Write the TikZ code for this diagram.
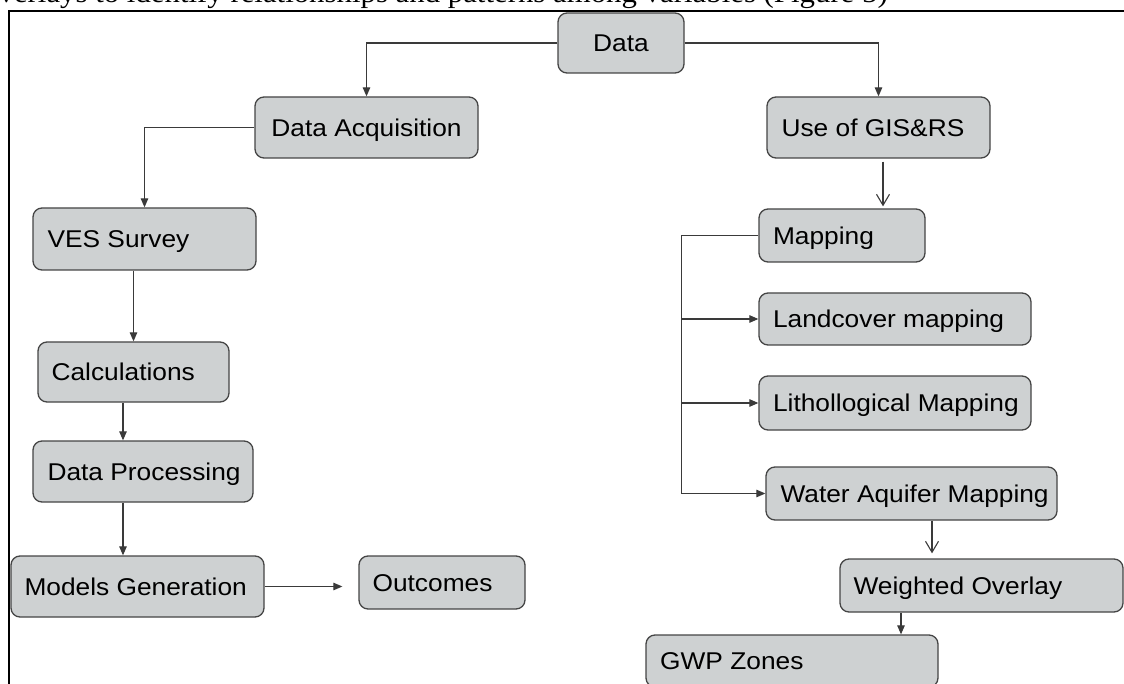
\documentclass[tikz,border=0pt]{standalone}
\usepackage{fontspec}
\setmainfont{Liberation Sans}[FakeStretch=1.085]
\newfontfamily\serifbody{Liberation Serif}[FakeStretch=1.085]
\usetikzlibrary{arrows.meta,calc}
\definecolor{boxfill}{HTML}{CED1D2}
\definecolor{boxline}{HTML}{454545}
\definecolor{linec}{HTML}{3A3A3A}
\begin{document}
\begin{tikzpicture}[x=1pt,y=-1pt,
  flowbox/.style={draw=boxline, fill=boxfill, line width=1.3pt, rounded corners=9pt, inner sep=0pt},
  lbl/.style={inner sep=0pt, anchor=base west, font=\fontsize{24.25}{28}\selectfont, text=black},
  conn/.style={draw=linec, line width=1.1pt},
  tip/.style={-{Triangle[length=9pt,width=7.5pt]}},
  opentip/.style={-{Straight Barb[length=11pt,width=13pt,line width=1.1pt]}}
]
\useasboundingbox (0,0) rectangle (1124,684);
\clip (0,0) rectangle (1124,684);

% clipped line of running text above the figure frame
\node[font=\serifbody\fontsize{28.4}{32}\selectfont, anchor=base west, inner sep=0pt] (capline) at (-17,3) {overlays to identify relationships and patterns among variables (Figure 5)};

% frame
\draw[line width=1.8pt] (9,690) -- (9,11) -- (1130,11);

% boxes
\node[flowbox, minimum width=126pt, minimum height=60pt] (data) at (621,43) {};
\node[flowbox, minimum width=223pt, minimum height=61pt] (acq) at (366.5,127.5) {};
\node[flowbox, minimum width=223pt, minimum height=61pt] (gis) at (878.5,127.5) {};
\node[flowbox, minimum width=166pt, minimum height=53pt] (map) at (842,235.5) {};
\node[flowbox, minimum width=223pt, minimum height=62pt] (ves) at (144.5,239) {};
\node[flowbox, minimum width=191pt, minimum height=60pt] (calc) at (133.5,372) {};
\node[flowbox, minimum width=220pt, minimum height=61pt] (dp) at (143,471.5) {};
\node[flowbox, minimum width=253pt, minimum height=61pt] (mg) at (137.5,586.5) {};
\node[flowbox, minimum width=166pt, minimum height=53pt] (out) at (442,582.5) {};
\node[flowbox, minimum width=272pt, minimum height=52pt] (land) at (895,319) {};
\node[flowbox, minimum width=272pt, minimum height=54pt] (lith) at (895,403) {};
\node[flowbox, minimum width=291pt, minimum height=53pt] (wam) at (911.5,493.5) {};
\node[flowbox, minimum width=283pt, minimum height=53pt] (wo) at (981.5,585.5) {};
\node[flowbox, minimum width=292pt, minimum height=52pt] (gwp) at (792,661) {};

% labels
\node[lbl, anchor=base] (dataT) at ($(data.center)+(0,8.7)$) {Data};
\node[lbl, anchor=base] (acqT) at ($(acq.center)+(0,8.7)$) {Data Acquisition};
\node[lbl] (gisT) at ($(gis.west)+(15,8.7)$) {Use of GIS\&RS};
\node[lbl] (mapT) at ($(map.west)+(14.5,8.7)$) {Mapping};
\node[lbl] (vesT) at ($(ves.west)+(15,8.7)$) {VES Survey};
\node[lbl] (calcT) at ($(calc.west)+(14,8.7)$) {Calculations};
\node[lbl] (dpT) at ($(dp.west)+(15,8.7)$) {Data Processing};
\node[lbl] (mgT) at ($(mg.west)+(14,8.7)$) {Models Generation};
\node[lbl] (outT) at ($(out.west)+(14,8.7)$) {Outcomes};
\node[lbl] (landT) at ($(land.west)+(14.5,8.7)$) {Landcover mapping};
\node[lbl] (lithT) at ($(lith.west)+(14.5,8.7)$) {Lithollogical Mapping};
\node[lbl] (wamT) at ($(wam.west)+(15,8.7)$) {Water Aquifer Mapping};
\node[lbl] (woT) at ($(wo.west)+(14,8.7)$) {Weighted Overlay};
\node[lbl] (gwpT) at ($(gwp.west)+(14.6,8.7)$) {GWP Zones};

% connectors
\draw[conn,tip] (data.west) -| (acq.north);
\draw[conn,tip] (data.east) -| (gis.north);
\draw[conn,tip] (acq.west) -| (ves.north);
\draw[conn,tip] (ves.south -| calc.north) -- (calc.north);
\draw[conn,tip] ([xshift=-10.5pt]calc.south) -- ([xshift=-10.5pt]calc.south |- dp.north);
\draw[conn,tip] ([xshift=-20pt]dp.south) -- ([xshift=-20pt]dp.south |- mg.north);
\coordinate (outin) at ($(out.west)+(-16,0)$);
\draw[conn,tip] (mg.east) -- (mg.east -| outin);
\draw[conn,opentip,shorten <=3pt,shorten >=2pt] ([xshift=4.5pt]gis.south) -- ([xshift=4.5pt]gis.south |- map.north);
\coordinate (bus) at ($(map.west)+(-77,0)$);
\draw[conn] (map.west) -- (bus) -- (bus |- wam.west);
\draw[conn,tip] (bus |- land.west) -- (land.west);
\draw[conn,tip] (bus |- lith.west) -- (lith.west);
\draw[conn,tip] (bus |- wam.west) -- (wam.west);
\draw[conn,opentip,shorten >=5pt] ([xshift=20.5pt]wam.south) -- ([xshift=20.5pt]wam.south |- wo.north);
\draw[conn,tip] ([xshift=-80.5pt]wo.south) -- ([xshift=-80.5pt]wo.south |- gwp.north);
\end{tikzpicture}
\end{document}
